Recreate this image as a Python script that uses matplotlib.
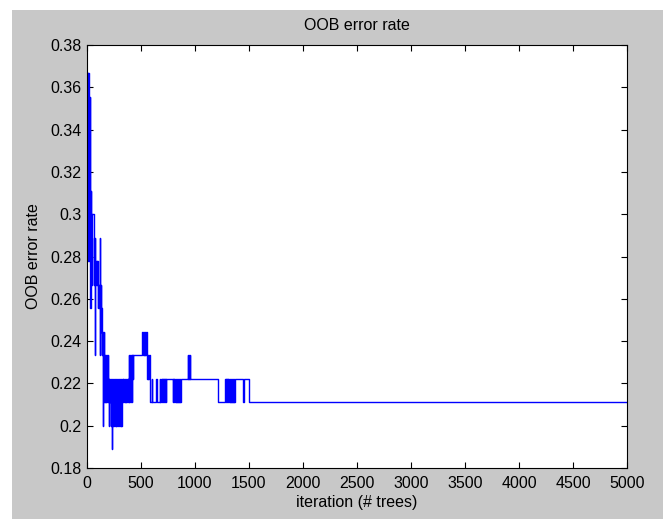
import numpy as np
import matplotlib.pyplot as plt
from matplotlib.patches import Rectangle

plt.rcParams['font.family'] = ['Liberation Sans', 'DejaVu Sans']

# OOB set has 90 samples; series = number misclassified at each change point
oob_size = 90

# first ~160 trees: very noisy
early_iter = [1, 3, 5, 7, 9, 11, 13, 15, 17, 19, 21, 23, 25, 27, 29, 31, 33, 35,
              37, 39, 41, 43, 46, 66, 69, 72, 74, 75, 76, 79, 82, 85, 88, 91, 94,
              97, 100, 102, 105, 108, 111, 114, 117, 120, 121, 122, 125, 128, 130,
              133, 136, 139, 142, 145, 148, 150, 151, 154]
early_wrong = [33, 26, 33, 25, 32, 26, 33, 25, 32, 27, 31, 25, 32, 26, 28, 23, 27, 24,
               28, 23, 26, 24, 27, 25, 24, 25, 26, 21, 24, 25, 24, 25, 24, 25, 24,
               25, 24, 23, 24, 23, 24, 23, 24, 26, 21, 23, 24, 23, 22,
               23, 22, 21, 22, 21, 22, 18, 21, 22]

# 157 .. 590 trees
mid_iter = [157, 160, 163, 166, 169, 172, 175, 178, 181, 184, 187, 190, 193, 196, 199,
            202, 205, 208, 211, 214, 217, 220, 223, 226, 228, 229, 232, 235, 238, 241,
            244, 247, 250, 253, 256, 259, 262, 265, 268, 271, 274, 277, 280, 283, 286,
            289, 292, 295, 298, 301, 304, 307, 310, 313, 316, 319, 322, 325, 328, 331,
            334, 338, 342, 346, 350, 354, 358, 362, 366, 370, 374, 378, 382, 386,
            389, 392, 395, 398, 401, 404, 407, 410, 413, 416, 419, 422, 425,
            510, 514, 518, 522, 526, 530, 534, 538, 542, 546, 550, 554,
            558, 562, 566, 570, 574, 578, 582, 586]
mid_wrong = [21, 19, 21, 20, 19, 21, 20, 19, 21, 19, 20, 19, 21, 19, 20,
             19, 18, 20, 19, 20, 19, 20, 18, 19, 17, 18, 20, 18, 19, 18,
             20, 18, 19, 18, 20, 18, 19, 18, 20, 18, 19, 18, 20, 18, 19,
             18, 20, 18, 19, 18, 20, 18, 19, 18, 20, 18, 19, 18, 20, 19,
             20, 19, 20, 19, 20, 19, 20, 19, 20, 19, 20, 19, 20, 19,
             21, 19, 21, 20, 21, 19, 21, 20, 21, 19, 21, 20, 21,
             22, 21, 22, 21, 22, 21, 22, 21, 22, 21, 22, 21,
             20, 21, 20, 21, 20, 21, 20, 19]

# 590 .. 5000 trees: settling down
late_iter = [598, 604, 640, 650,
             675, 680, 685, 690, 695, 700, 705, 710, 715, 720, 725, 730, 735, 741,
             795, 800, 805, 810, 815, 820, 825, 830, 835, 840, 845, 850, 855, 860, 865, 870,
             935, 939, 943, 947, 951, 955, 960,
             1212, 1280, 1285, 1290, 1295, 1300, 1305, 1310, 1315, 1320, 1325, 1330,
             1335, 1340, 1345, 1350, 1355, 1360, 1365, 1370,
             1445, 1452, 1503, 5000]
late_wrong = [20, 19, 20, 19,
              20, 19, 20, 19, 20, 19, 20, 19, 20, 19, 20, 19, 20, 20,
              19, 20, 19, 20, 19, 20, 19, 20, 19, 20, 19, 20, 19, 20, 19, 20,
              21, 20, 21, 20, 21, 20, 20,
              19, 20, 19, 20, 19, 20, 19, 20, 19, 20, 19, 20,
              19, 20, 19, 20, 19, 20, 19, 20,
              19, 20, 19, 19]

iters = np.array(early_iter + mid_iter + late_iter)
err = np.array(early_wrong + mid_wrong + late_wrong) / oob_size

fig = plt.figure(figsize=(6.63, 5.19), dpi=100, facecolor='white')
# matlab-ish grey figure area (screenshot has a thin white border top/left)
fig.patches.append(Rectangle((12 / 663, 0), 1, 1 - 10 / 519, transform=fig.transFigure,
                             facecolor='#c8c8c8', edgecolor='none', zorder=-10))

ax = fig.add_axes([87 / 663, 51 / 519, 540 / 663, 423 / 519])
ax.set_zorder(1)
ax.set_facecolor('white')
ax.step(iters, err, where='post', color='#0000ff', linewidth=1.0)

ax.set_xlim(0, 5000)
ax.set_ylim(0.18, 0.38)
xt = np.arange(0, 5001, 500)
yt = np.arange(0.18, 0.3801, 0.02)
ax.set_xticks(xt)
ax.set_xticklabels([str(v) for v in xt])
ax.set_yticks(yt)
ax.set_yticklabels(['%g' % round(v, 2) for v in yt])
ax.tick_params(direction='in', length=4, width=0.8, top=True, right=True,
               labelsize=11.5, colors='black')
ax.tick_params(axis='x', pad=6)
ax.tick_params(axis='y', pad=4)
for s in ax.spines.values():
    s.set_linewidth(0.8)
    s.set_color('black')

fig.text(357 / 663, 1 - 25 / 519, 'OOB error rate', ha='center', va='center', fontsize=11.5)
fig.text(357 / 663, 16 / 519, 'iteration (# trees)', ha='center', va='center', fontsize=11.5)
fig.text(33 / 663, 1 - 256 / 519, 'OOB error rate', ha='center', va='center',
         rotation=90, fontsize=11.5)

fig.savefig('out.png', dpi=100, facecolor=fig.get_facecolor())
